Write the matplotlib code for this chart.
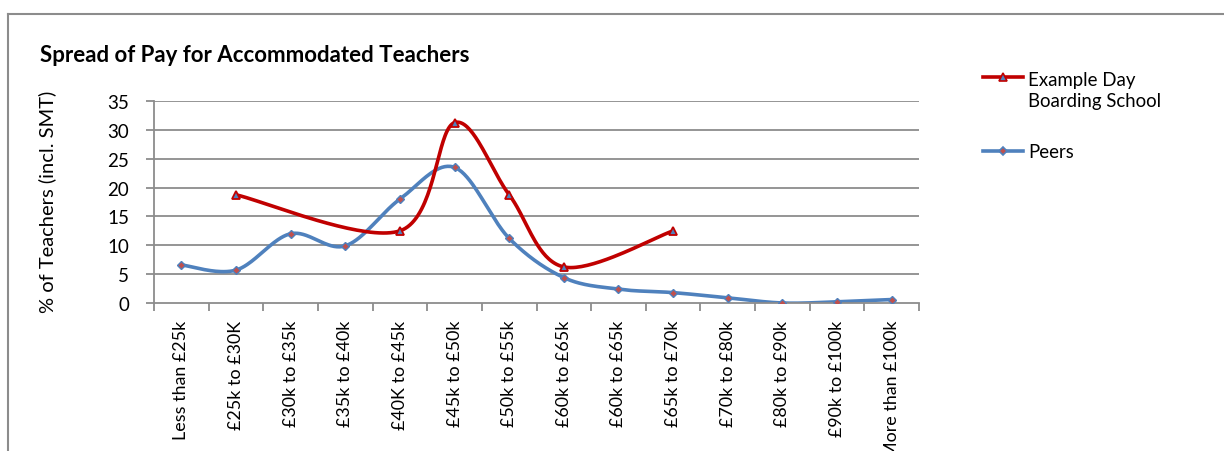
import numpy as np
import matplotlib
matplotlib.use("Agg")
import matplotlib.pyplot as plt
from matplotlib.lines import Line2D

categories = ["Less than £25k", "£25k to £30K", "£30k to £35k", "£35k to £40k",
              "£40K to £45k", "£45k to £50k", "£50k to £55k", "£60k to £65k",
              "£60k to £65k", "£65k to £70k", "£70k to £80k", "£80k to £90k",
              "£90k to £100k", "More than £100k"]
school = [None, 18.75, None, None, 12.5, 31.25, 18.75, 6.25, None, 12.5,
          None, None, None, None]
peers = [6.6, 5.7, 12.0, 9.9, 18.0, 23.5, 11.2, 4.4, 2.4, 1.8, 0.9, 0.0, 0.2, 0.6]

RED = "#C00000"
BLUE = "#4F81BD"
GRID = "#8C8C8C"

plt.rcParams["font.family"] = ["Lato", "DejaVu Sans"]


def smooth(xs, ys, n=40):
    # excel-like smoothed line: cubic bezier with catmull-rom tangents
    pts = np.column_stack([xs, ys]).astype(float)
    if len(pts) < 3:
        return pts[:, 0], pts[:, 1]
    out = []
    for i in range(len(pts) - 1):
        p0 = pts[i - 1] if i > 0 else pts[i]
        p1, p2 = pts[i], pts[i + 1]
        p3 = pts[i + 2] if i + 2 < len(pts) else pts[i + 1]
        c1 = p1 + (p2 - p0) / 6.0
        c2 = p2 - (p3 - p1) / 6.0
        t = np.linspace(0, 1, n)[:, None]
        seg = ((1 - t) ** 3) * p1 + 3 * ((1 - t) ** 2) * t * c1 + 3 * (1 - t) * t ** 2 * c2 + t ** 3 * p2
        out.append(seg if i == 0 else seg[1:])
    out = np.vstack(out)
    return out[:, 0], out[:, 1]


fig = plt.figure(figsize=(12.24, 4.52), dpi=100)
W, H = 1224, 452
ax = fig.add_axes([154 / W, 1 - 304 / H, (919 - 154) / W, (304 - 102) / H])

xs = np.arange(len(categories)) + 0.5

# outer chart border (top and left visible)
fig.add_artist(Line2D([7.5 / W, 1], [1 - 14.5 / H, 1 - 14.5 / H], color=GRID, lw=1.5))
fig.add_artist(Line2D([7.5 / W, 7.5 / W], [0, 1 - 14.5 / H], color=GRID, lw=1.5))

for v in range(5, 40, 5):
    ax.axhline(v, color=GRID, lw=1.3, zorder=0)

sx = [x for x, v in zip(xs, school) if v is not None]
sy = [v for v in school if v is not None]
px, py = smooth(xs, peers)
ax.plot(px, py, color=BLUE, lw=2.6, solid_capstyle="round", zorder=2)
ax.plot(xs, peers, ls="none", marker="D", ms=4.5, mfc="#C0504D", mec=BLUE, mew=1.0, zorder=3)
rx, ry = smooth(sx, sy)
ax.plot(rx, ry, color=RED, lw=2.6, solid_capstyle="round", zorder=4)
ax.plot(sx, sy, ls="none", marker="^", ms=6, mfc=BLUE, mec=RED, mew=1.3, zorder=5)

ax.set_xlim(0, len(categories))
ax.set_ylim(0, 35)
ax.set_yticks(range(0, 40, 5))
ax.set_xticks(np.arange(len(categories) + 1), minor=False)
ax.set_xticklabels([])
ax.set_xticks(xs, minor=True)
ax.set_xticklabels(categories, minor=True, rotation=90, fontsize=12.9)
ax.tick_params(axis="x", which="minor", length=0, pad=12)
ax.tick_params(axis="x", which="major", length=6, width=1.3, color=GRID, direction="out")
ax.tick_params(axis="y", length=6, width=1.3, color=GRID, labelsize=13.5, pad=12)

for s in ["top", "right"]:
    ax.spines[s].set_visible(False)
for s in ["left", "bottom"]:
    ax.spines[s].set_color(GRID)
    ax.spines[s].set_linewidth(1.3)

fig.text(40 / W, 1 - 56 / H, "Spread of Pay for Accommodated Teachers",
         fontsize=16, fontweight="bold", va="center", ha="left")
fig.text(47 / W, 1 - 202 / H, "% of Teachers (incl. SMT)", rotation=90,
         fontsize=14.5, va="center", ha="center")

# legend drawn manually to match layout
lx0, lx1 = 983 / W, 1023 / W
for y, col, mk, mfc, ms in [(78, RED, "^", BLUE, 5.5), (152, BLUE, "D", "#C0504D", 4)]:
    yy = 1 - y / H
    fig.add_artist(Line2D([lx0, lx1], [yy, yy], color=col, lw=2.6))
    fig.add_artist(Line2D([(lx0 + lx1) / 2], [yy], marker=mk, ms=ms, mfc=mfc, mec=col, mew=1.2))
fig.text(1028 / W, 1 - 91 / H, "Example Day\nBoarding School", fontsize=13.4,
         va="center", ha="left", linespacing=1.3)
fig.text(1028 / W, 1 - 152 / H, "Peers", fontsize=13.4, va="center", ha="left")

fig.savefig("out.png", dpi=100)
